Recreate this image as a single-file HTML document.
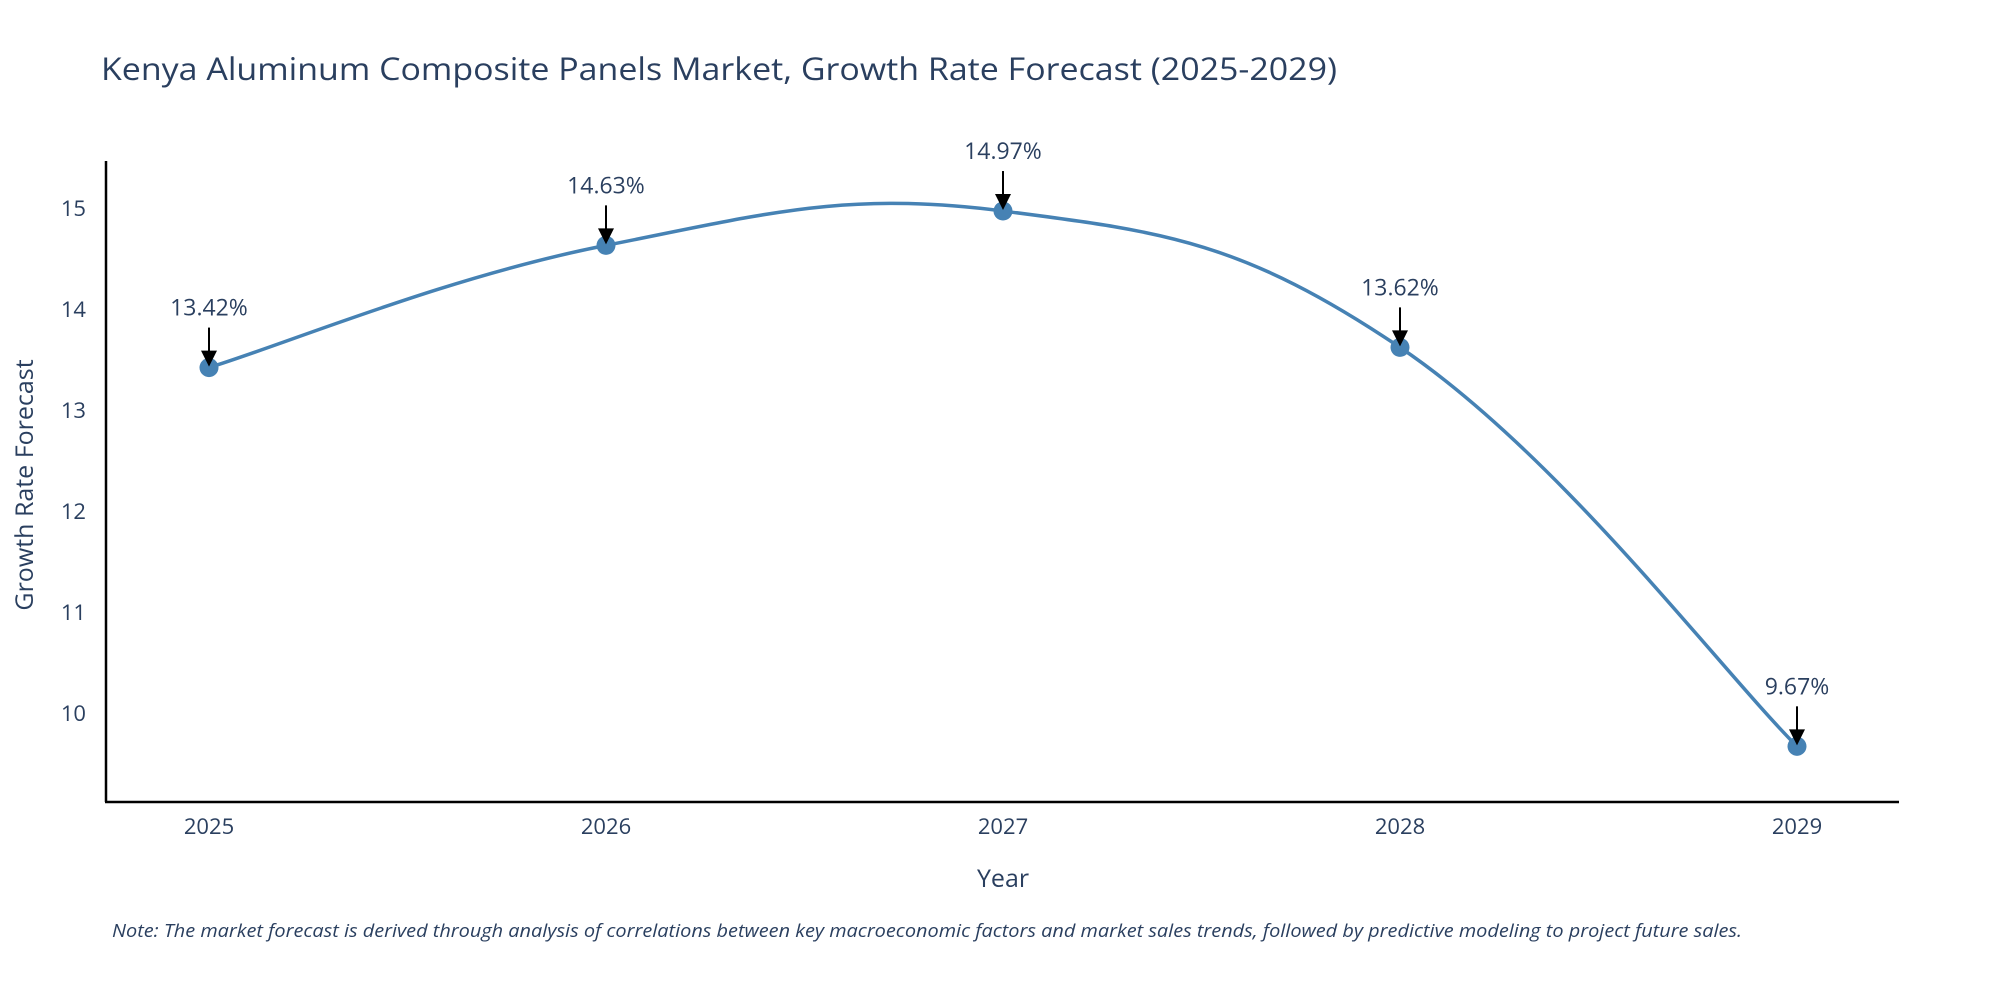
<!DOCTYPE html>
<html><head><meta charset="utf-8"><style>
body{margin:0;background:#fff;}
svg{display:block;font-family:"Open Sans","Liberation Sans",sans-serif;}
</style></head><body>
<svg id="chart" width="2000" height="1000" viewBox="0 0 2000 1000">
<rect width="2000" height="1000" fill="#fff"/>
<text x="101" y="80" font-size="31" fill="#2a3f5f" textLength="1236" lengthAdjust="spacingAndGlyphs">Kenya Aluminum Composite Panels Market, Growth Rate Forecast (2025-2029)</text>
<g id="axes"></g>
<g id="series"></g>
<text x="1003" y="887" font-size="25" fill="#2a3f5f" text-anchor="middle">Year</text>
<text transform="translate(33,485) rotate(-90)" font-size="25" fill="#2a3f5f" text-anchor="middle">Growth Rate Forecast</text>
<text x="112" y="937" font-size="18" font-style="italic" fill="#2a3f5f" textLength="1630" lengthAdjust="spacingAndGlyphs">Note: The market forecast is derived through analysis of correlations between key macroeconomic factors and market sales trends, followed by predictive modeling to project future sales.</text>
</svg>
<script>
const years = [2025, 2026, 2027, 2028, 2029];
const growth = [13.42, 14.63, 14.97, 13.62, 9.67];
const yTicks = [10, 11, 12, 13, 14, 15];
const NS = "http://www.w3.org/2000/svg";
function xs(i){ return 209 + i * (1797 - 209) / 4; }
function ys(v){ return 713 - (v - 10) * (713 - 208) / 5; }
function mk(tag, attrs, parent){ const e = document.createElementNS(NS, tag); for (const k in attrs) e.setAttribute(k, attrs[k]); parent.appendChild(e); return e; }
const axes = document.getElementById('axes');
const series = document.getElementById('series');
let a = mk('line', {x1:106, y1:161, x2:106, y2:802, stroke:'#000', 'stroke-width':2.5}, axes);


a = mk('line', {x1:105, y1:802, x2:1899, y2:802, stroke:'#000', 'stroke-width':2.5}, axes);


yTicks.forEach(t => {
  const e = mk('text', {x:86, y:ys(t)+8, 'font-size':22, fill:'#2a3f5f', 'text-anchor':'end'}, axes);
  e.textContent = t;
  
  
});
years.forEach((yr, i) => {
  const e = mk('text', {x:xs(i), y:834, 'font-size':22, fill:'#2a3f5f', 'text-anchor':'middle'}, axes);
  e.textContent = yr;
  
  
});
const pts = growth.map((v, i) => [xs(i), ys(v)]);
let d = 'M' + pts[0][0] + ',' + pts[0][1];
const s = 0.4;
for (let i = 0; i < pts.length - 1; i++) {
  const p0 = pts[Math.max(0, i-1)], p1 = pts[i], p2 = pts[i+1], p3 = pts[Math.min(pts.length-1, i+2)];
  const c1 = [p1[0] + (p2[0]-p0[0])*s/2, p1[1] + (p2[1]-p0[1])*s/2];
  const c2 = [p2[0] - (p3[0]-p1[0])*s/2, p2[1] - (p3[1]-p1[1])*s/2];
  d += ' C' + c1.join(',') + ' ' + c2.join(',') + ' ' + p2.join(',');
}
const line = mk('path', {d:d, fill:'none', stroke:'#4682b4', 'stroke-width':3.5}, series);


pts.forEach((p, i) => {
  const c = mk('circle', {cx:p[0], cy:p[1], r:9.5, fill:'#4682b4'}, series);
  
  
  const ar = mk('line', {x1:p[0], y1:p[1]-40, x2:p[0], y2:p[1]-14, stroke:'#000', 'stroke-width':2}, series);
  
  
  const hd = mk('polygon', {points:(p[0]-8)+','+(p[1]-17)+' '+(p[0]+8)+','+(p[1]-17)+' '+p[0]+','+(p[1]-1), fill:'#000'}, series);
  
  
  const t = mk('text', {x:p[0], y:p[1]-52, 'font-size':23, fill:'#2a3f5f', 'text-anchor':'middle'}, series);
  t.textContent = growth[i].toFixed(2) + '%';
  
  
});
</script>
</body></html>
